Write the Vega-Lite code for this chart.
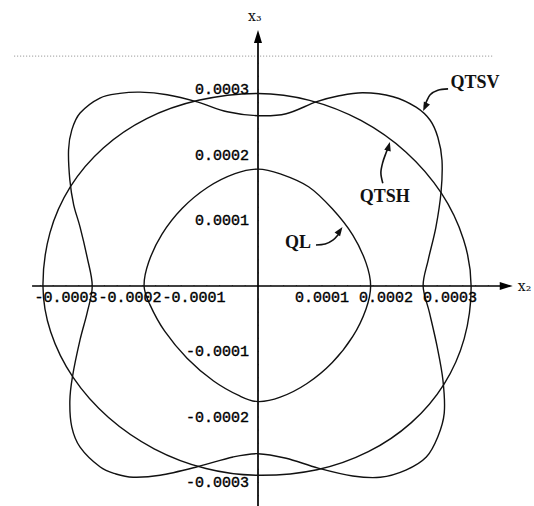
{
 "$schema": "https://vega.github.io/schema/vega-lite/v6.json",
 "width": 534, "height": 506, "autosize": "none", "padding": 0,
 "background": "white",
 "config": {"view": {"stroke": null}},
 "datasets": {
  "curves": [
   {"c":"QL","i":0,"x":1.76e-4,"y":0},
   {"c":"QL","i":1,"x":1.688e-4,"y":0.353e-4},
   {"c":"QL","i":2,"x":1.481e-4,"y":0.777e-4},
   {"c":"QL","i":3,"x":1.161e-4,"y":1.178e-4},
   {"c":"QL","i":4,"x":0.79e-4,"y":1.515e-4},
   {"c":"QL","i":5,"x":0.348e-4,"y":1.712e-4},
   {"c":"QL","i":6,"x":0,"y":1.785e-4},
   {"c":"QL","i":7,"x":-0.36e-4,"y":1.715e-4},
   {"c":"QL","i":8,"x":-0.785e-4,"y":1.507e-4},
   {"c":"QL","i":9,"x":-1.183e-4,"y":1.186e-4},
   {"c":"QL","i":10,"x":-1.502e-4,"y":0.788e-4},
   {"c":"QL","i":11,"x":-1.709e-4,"y":0.362e-4},
   {"c":"QL","i":12,"x":-1.78e-4,"y":0},
   {"c":"QL","i":13,"x":-1.689e-4,"y":-0.284e-4},
   {"c":"QL","i":14,"x":-1.458e-4,"y":-0.690e-4},
   {"c":"QL","i":15,"x":-1.109e-4,"y":-1.102e-4},
   {"c":"QL","i":16,"x":-0.694e-4,"y":-1.450e-4},
   {"c":"QL","i":17,"x":-0.285e-4,"y":-1.679e-4},
   {"c":"QL","i":18,"x":0,"y":-1.765e-4},
   {"c":"QL","i":19,"x":0.348e-4,"y":-1.698e-4},
   {"c":"QL","i":20,"x":0.766e-4,"y":-1.489e-4},
   {"c":"QL","i":21,"x":1.161e-4,"y":-1.168e-4},
   {"c":"QL","i":22,"x":1.481e-4,"y":-0.770e-4},
   {"c":"QL","i":23,"x":1.688e-4,"y":-0.350e-4},
   {"c":"QTSH","i":0,"x":3.33e-4,"y":0},
   {"c":"QTSH","i":1,"x":3.211e-4,"y":0.711e-4},
   {"c":"QTSH","i":2,"x":2.863e-4,"y":1.420e-4},
   {"c":"QTSH","i":3,"x":2.314e-4,"y":2.043e-4},
   {"c":"QTSH","i":4,"x":1.608e-4,"y":2.528e-4},
   {"c":"QTSH","i":5,"x":0.806e-4,"y":2.835e-4},
   {"c":"QTSH","i":6,"x":0,"y":2.94e-4},
   {"c":"QTSH","i":7,"x":-0.930e-4,"y":2.835e-4},
   {"c":"QTSH","i":8,"x":-1.739e-4,"y":2.556e-4},
   {"c":"QTSH","i":9,"x":-2.417e-4,"y":2.108e-4},
   {"c":"QTSH","i":10,"x":-2.931e-4,"y":1.517e-4},
   {"c":"QTSH","i":11,"x":-3.251e-4,"y":0.811e-4},
   {"c":"QTSH","i":12,"x":-3.36e-4,"y":0},
   {"c":"QTSH","i":13,"x":-3.240e-4,"y":-0.699e-4},
   {"c":"QTSH","i":14,"x":-2.889e-4,"y":-1.396e-4},
   {"c":"QTSH","i":15,"x":-2.335e-4,"y":-2.008e-4},
   {"c":"QTSH","i":16,"x":-1.623e-4,"y":-2.485e-4},
   {"c":"QTSH","i":17,"x":-0.813e-4,"y":-2.787e-4},
   {"c":"QTSH","i":18,"x":0,"y":-2.89e-4},
   {"c":"QTSH","i":19,"x":0.922e-4,"y":-2.806e-4},
   {"c":"QTSH","i":20,"x":1.724e-4,"y":-2.530e-4},
   {"c":"QTSH","i":21,"x":2.396e-4,"y":-2.086e-4},
   {"c":"QTSH","i":22,"x":2.905e-4,"y":-1.501e-4},
   {"c":"QTSH","i":23,"x":3.222e-4,"y":-0.803e-4},
   {"c":"QTSV","i":0,"x":2.58e-4,"y":0},
   {"c":"QTSV","i":1,"x":2.66e-4,"y":0.40e-4},
   {"c":"QTSV","i":2,"x":2.78e-4,"y":0.90e-4},
   {"c":"QTSV","i":3,"x":2.86e-4,"y":1.435e-4},
   {"c":"QTSV","i":4,"x":2.875e-4,"y":1.92e-4},
   {"c":"QTSV","i":5,"x":2.81e-4,"y":2.27e-4},
   {"c":"QTSV","i":6,"x":2.69e-4,"y":2.53e-4},
   {"c":"QTSV","i":7,"x":2.47e-4,"y":2.73e-4},
   {"c":"QTSV","i":8,"x":2.11e-4,"y":2.89e-4},
   {"c":"QTSV","i":9,"x":1.64e-4,"y":2.95e-4},
   {"c":"QTSV","i":10,"x":1.25e-4,"y":2.90e-4},
   {"c":"QTSV","i":11,"x":0.906e-4,"y":2.81e-4},
   {"c":"QTSV","i":12,"x":0.44e-4,"y":2.63e-4},
   {"c":"QTSV","i":13,"x":0,"y":2.60e-4},
   {"c":"QTSV","i":14,"x":-0.48e-4,"y":2.66e-4},
   {"c":"QTSV","i":15,"x":-0.95e-4,"y":2.81e-4},
   {"c":"QTSV","i":16,"x":-1.42e-4,"y":2.92e-4},
   {"c":"QTSV","i":17,"x":-1.84e-4,"y":2.96e-4},
   {"c":"QTSV","i":18,"x":-2.16e-4,"y":2.94e-4},
   {"c":"QTSV","i":19,"x":-2.47e-4,"y":2.87e-4},
   {"c":"QTSV","i":20,"x":-2.78e-4,"y":2.64e-4},
   {"c":"QTSV","i":21,"x":-2.91e-4,"y":2.38e-4},
   {"c":"QTSV","i":22,"x":-2.96e-4,"y":2.08e-4},
   {"c":"QTSV","i":23,"x":-2.94e-4,"y":1.62e-4},
   {"c":"QTSV","i":24,"x":-2.88e-4,"y":1.24e-4},
   {"c":"QTSV","i":25,"x":-2.78e-4,"y":0.90e-4},
   {"c":"QTSV","i":26,"x":-2.67e-4,"y":0.44e-4},
   {"c":"QTSV","i":27,"x":-2.59e-4,"y":0},
   {"c":"QTSV","i":28,"x":-2.67e-4,"y":-0.41e-4},
   {"c":"QTSV","i":29,"x":-2.78e-4,"y":-0.82e-4},
   {"c":"QTSV","i":30,"x":-2.90e-4,"y":-1.39e-4},
   {"c":"QTSV","i":31,"x":-2.94e-4,"y":-1.76e-4},
   {"c":"QTSV","i":32,"x":-2.91e-4,"y":-2.15e-4},
   {"c":"QTSV","i":33,"x":-2.78e-4,"y":-2.46e-4},
   {"c":"QTSV","i":34,"x":-2.47e-4,"y":-2.76e-4},
   {"c":"QTSV","i":35,"x":-2.22e-4,"y":-2.87e-4},
   {"c":"QTSV","i":36,"x":-1.95e-4,"y":-2.92e-4},
   {"c":"QTSV","i":37,"x":-1.53e-4,"y":-2.89e-4},
   {"c":"QTSV","i":38,"x":-0.95e-4,"y":-2.76e-4},
   {"c":"QTSV","i":39,"x":-0.39e-4,"y":-2.61e-4},
   {"c":"QTSV","i":40,"x":0,"y":-2.56e-4},
   {"c":"QTSV","i":41,"x":0.44e-4,"y":-2.63e-4},
   {"c":"QTSV","i":42,"x":0.94e-4,"y":-2.78e-4},
   {"c":"QTSV","i":43,"x":1.48e-4,"y":-2.90e-4},
   {"c":"QTSV","i":44,"x":1.91e-4,"y":-2.92e-4},
   {"c":"QTSV","i":45,"x":2.31e-4,"y":-2.81e-4},
   {"c":"QTSV","i":46,"x":2.63e-4,"y":-2.61e-4},
   {"c":"QTSV","i":47,"x":2.81e-4,"y":-2.30e-4},
   {"c":"QTSV","i":48,"x":2.91e-4,"y":-1.94e-4},
   {"c":"QTSV","i":49,"x":2.89e-4,"y":-1.44e-4},
   {"c":"QTSV","i":50,"x":2.80e-4,"y":-0.93e-4},
   {"c":"QTSV","i":51,"x":2.68e-4,"y":-0.41e-4}
  ],
  "arrows": [
   {"a":"V","i":0,"x":2.97e-4,"y":3.01e-4},
   {"a":"V","i":1,"x":2.81e-4,"y":2.99e-4},
   {"a":"V","i":2,"x":2.69e-4,"y":2.92e-4},
   {"a":"V","i":3,"x":2.63e-4,"y":2.81e-4},
   {"a":"V","i":4,"x":2.60e-4,"y":2.74e-4},
   {"a":"H","i":0,"x":1.95e-4,"y":1.57e-4},
   {"a":"H","i":1,"x":1.92e-4,"y":1.73e-4},
   {"a":"H","i":2,"x":1.95e-4,"y":1.89e-4},
   {"a":"H","i":3,"x":2.00e-4,"y":2.03e-4},
   {"a":"H","i":4,"x":2.03e-4,"y":2.10e-4},
   {"a":"L","i":0,"x":0.906e-4,"y":0.626e-4},
   {"a":"L","i":1,"x":1.05e-4,"y":0.64e-4},
   {"a":"L","i":2,"x":1.17e-4,"y":0.70e-4},
   {"a":"L","i":3,"x":1.25e-4,"y":0.78e-4},
   {"a":"L","i":4,"x":1.28e-4,"y":0.83e-4}
  ],
  "noteheads": [
   {"x":2.58e-4,"y":2.67e-4,"dir":205},
   {"x":2.06e-4,"y":2.20e-4,"dir":15},
   {"x":1.32e-4,"y":0.90e-4,"dir":35}
  ],
  "axisheads": [
   {"x":3.98e-4,"y":0,"dir":90},
   {"x":0,"y":3.91e-4,"dir":0}
  ],
  "xticks": [
   {"x":-3.4e-4,"y":0},{"x":-3.2e-4,"y":0},{"x":-3.0e-4,"y":0},{"x":-2.8e-4,"y":0},{"x":-2.6e-4,"y":0},
   {"x":-2.4e-4,"y":0},{"x":-2.2e-4,"y":0},{"x":-2.0e-4,"y":0},{"x":-1.8e-4,"y":0},{"x":-1.6e-4,"y":0},
   {"x":-1.4e-4,"y":0},{"x":-1.2e-4,"y":0},{"x":-1.0e-4,"y":0},{"x":-0.8e-4,"y":0},{"x":-0.6e-4,"y":0},
   {"x":-0.4e-4,"y":0},{"x":-0.2e-4,"y":0},{"x":0.2e-4,"y":0},{"x":0.4e-4,"y":0},{"x":0.6e-4,"y":0},
   {"x":0.8e-4,"y":0},{"x":1.0e-4,"y":0},{"x":1.2e-4,"y":0},{"x":1.4e-4,"y":0},{"x":1.6e-4,"y":0},
   {"x":1.8e-4,"y":0},{"x":2.0e-4,"y":0},{"x":2.2e-4,"y":0},{"x":2.4e-4,"y":0},{"x":2.6e-4,"y":0},
   {"x":2.8e-4,"y":0},{"x":3.0e-4,"y":0},{"x":3.2e-4,"y":0},{"x":3.4e-4,"y":0},{"x":3.6e-4,"y":0}
  ],
  "yticks": [
   {"x":0,"y":-3.4e-4},{"x":0,"y":-3.2e-4},{"x":0,"y":-3.0e-4},{"x":0,"y":-2.8e-4},{"x":0,"y":-2.6e-4},
   {"x":0,"y":-2.4e-4},{"x":0,"y":-2.2e-4},{"x":0,"y":-2.0e-4},{"x":0,"y":-1.8e-4},{"x":0,"y":-1.6e-4},
   {"x":0,"y":-1.4e-4},{"x":0,"y":-1.2e-4},{"x":0,"y":-1.0e-4},{"x":0,"y":-0.8e-4},{"x":0,"y":-0.6e-4},
   {"x":0,"y":-0.4e-4},{"x":0,"y":-0.2e-4},{"x":0,"y":0.2e-4},{"x":0,"y":0.4e-4},{"x":0,"y":0.6e-4},
   {"x":0,"y":0.8e-4},{"x":0,"y":1.0e-4},{"x":0,"y":1.2e-4},{"x":0,"y":1.4e-4},{"x":0,"y":1.6e-4},
   {"x":0,"y":1.8e-4},{"x":0,"y":2.0e-4},{"x":0,"y":2.2e-4},{"x":0,"y":2.4e-4},{"x":0,"y":2.6e-4},
   {"x":0,"y":2.8e-4},{"x":0,"y":3.0e-4},{"x":0,"y":3.2e-4},{"x":0,"y":3.4e-4}
  ],
  "xlabels": [
   {"x":-3e-4,"y":0,"t":"-0.0003"},{"x":-2e-4,"y":0,"t":"-0.0002"},{"x":-1e-4,"y":0,"t":"-0.0001"},
   {"x":1e-4,"y":0,"t":"0.0001"},{"x":2e-4,"y":0,"t":"0.0002"},{"x":3e-4,"y":0,"t":"0.0003"}
  ],
  "ylabels": [
   {"x":0,"y":3e-4,"t":"0.0003"},{"x":0,"y":2e-4,"t":"0.0002"},{"x":0,"y":1e-4,"t":"0.0001"},
   {"x":0,"y":-1e-4,"t":"-0.0001"},{"x":0,"y":-2e-4,"t":"-0.0002"},{"x":0,"y":-3e-4,"t":"-0.0003"}
  ],
  "names": [
   {"x":3.39e-4,"y":3.10e-4,"t":"QTSV"},
   {"x":1.98e-4,"y":1.36e-4,"t":"QTSH"},
   {"x":0.625e-4,"y":0.656e-4,"t":"QL"}
  ],
  "axisnames": [
   {"x":4.06e-4,"y":-0.076e-4,"t":"x₂"},
   {"x":-0.156e-4,"y":4.05e-4,"t":"x₃"}
  ]
 },
 "encoding": {
  "x": {"field": "x", "type": "quantitative", "scale": {"domain": [-4.03125e-4, 4.3125e-4], "nice": false, "zero": false}, "axis": null},
  "y": {"field": "y", "type": "quantitative", "scale": {"domain": [-3.3588e-4, 4.3664e-4], "nice": false, "zero": false}, "axis": null}
 },
 "layer": [
  {"data": {"values": [{"x": -3.81e-4, "y": 3.51e-4, "x2": 3.67e-4}]},
   "mark": {"type": "rule", "stroke": "#8a8a8a", "strokeWidth": 1, "strokeDash": [1, 2]},
   "encoding": {"x2": {"field": "x2"}}},
  {"data": {"values": [{"x": -3.53e-4, "y": 0, "x2": 3.9e-4, "y2": 0}, {"x": 0, "y": -3.5e-4, "x2": 0, "y2": 3.85e-4}]},
   "mark": {"type": "rule", "stroke": "#000000", "strokeWidth": 1.7},
   "encoding": {"x2": {"field": "x2"}, "y2": {"field": "y2"}}},
  {"data": {"name": "xticks"},
   "mark": {"type": "rule", "stroke": "#000000", "strokeWidth": 1.1},
   "encoding": {"y2": {"datum": 6.1e-7}}},
  {"data": {"name": "yticks"},
   "mark": {"type": "rule", "stroke": "#000000", "strokeWidth": 1.1},
   "encoding": {"x2": {"datum": 6.25e-7}}},
  {"data": {"name": "curves"},
   "mark": {"type": "line", "interpolate": "cardinal-closed", "stroke": "#111111", "strokeWidth": 1.4},
   "encoding": {"detail": {"field": "c"}, "order": {"field": "i", "type": "quantitative"}}},
  {"data": {"name": "arrows"},
   "mark": {"type": "line", "interpolate": "cardinal", "stroke": "#111111", "strokeWidth": 1.6},
   "encoding": {"detail": {"field": "a"}, "order": {"field": "i", "type": "quantitative"}}},
  {"data": {"name": "noteheads"},
   "mark": {"type": "point", "shape": "M0,0L0.75,2L-0.75,2Z", "filled": true, "fill": "#111111", "opacity": 1, "size": 81, "strokeWidth": 0},
   "encoding": {"angle": {"field": "dir", "type": "quantitative", "scale": null}}},
  {"data": {"name": "axisheads"},
   "mark": {"type": "point", "shape": "M0,0L0.62,2L-0.62,2Z", "filled": true, "fill": "#000000", "opacity": 1, "size": 169, "strokeWidth": 0},
   "encoding": {"angle": {"field": "dir", "type": "quantitative", "scale": null}}},
  {"data": {"name": "xlabels"},
   "mark": {"type": "text", "font": "Liberation Mono", "fontSize": 15, "baseline": "middle", "align": "center", "dy": 11, "fill": "#000000", "stroke": "#000000", "strokeWidth": 0.4},
   "encoding": {"text": {"field": "t"}}},
  {"data": {"name": "ylabels"},
   "mark": {"type": "text", "font": "Liberation Mono", "fontSize": 15, "baseline": "middle", "align": "right", "dx": -9, "fill": "#000000", "stroke": "#000000", "strokeWidth": 0.4},
   "encoding": {"text": {"field": "t"}}},
  {"data": {"name": "names"},
   "mark": {"type": "text", "font": "Liberation Serif", "fontWeight": "bold", "fontSize": 18, "baseline": "middle", "align": "center", "fill": "#111111"},
   "encoding": {"text": {"field": "t"}}},
  {"data": {"name": "axisnames"},
   "mark": {"type": "text", "font": "DejaVu Serif", "fontSize": 14, "baseline": "alphabetic", "align": "left", "fill": "#111111"},
   "encoding": {"text": {"field": "t"}}}
 ]
}
